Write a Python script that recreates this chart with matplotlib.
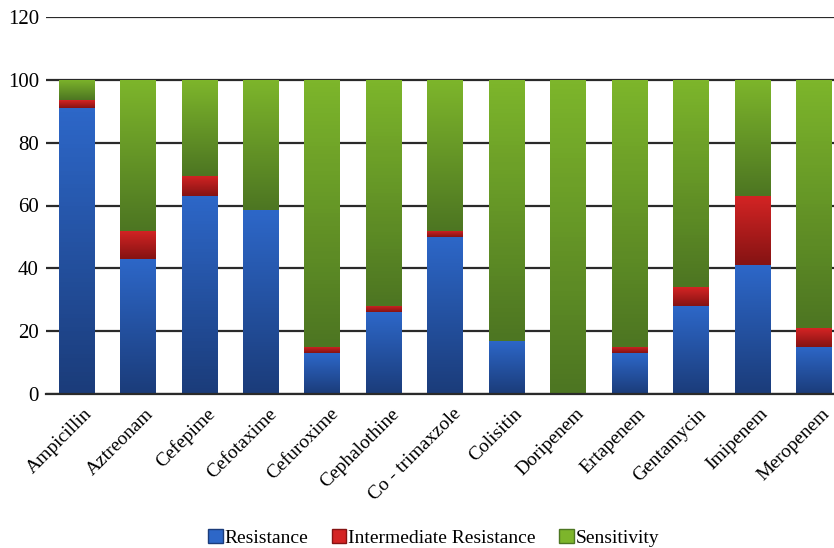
import matplotlib
matplotlib.use('Agg')
import matplotlib.pyplot as plt
import matplotlib.transforms as mtransforms
import numpy as np
from matplotlib.colors import LinearSegmentedColormap
from matplotlib.patches import Patch

plt.rcParams['font.family'] = ['Liberation Serif', 'DejaVu Serif']

# data (percent)
drugs = ['Ampicillin', 'Aztreonam', 'Cefepime', 'Cefotaxime', 'Cefuroxime',
         'Cephalothine', 'Co - trimaxzole', 'Colisitin', 'Doripenem',
         'Ertapenem', 'Gentamycin', 'Imipenem', 'Meropenem']
resistance = [91, 43, 63, 58.5, 13, 26, 50, 17, 0, 13, 28, 41, 15]
intermediate = [2.5, 9, 6.5, 0, 2, 2, 2, 0, 0, 2, 6, 22, 6]
sensitivity = [6.5, 48, 30.5, 41.5, 85, 72, 48, 83, 100, 85, 66, 37, 79]

series = ['Resistance', 'Intermediate Resistance', 'Sensitivity']
# (top colour, bottom colour) for each series
grads = [('#2d67c8', '#1b3c7a'),
         ('#d42424', '#851313'),
         ('#7db52b', '#4d7622')]

fig = plt.figure(figsize=(8.34, 5.48), dpi=100)
ax = fig.add_axes([0.055, 0.281, 0.958, 0.688])

x = np.arange(len(drugs))
w = 0.585
bottom = np.zeros(len(drugs))
for vals, (top_c, bot_c) in zip([resistance, intermediate, sensitivity], grads):
    vals = np.array(vals, dtype=float)
    bars = ax.bar(x, vals, w, bottom=bottom, color=bot_c, zorder=2)
    cmap = LinearSegmentedColormap.from_list('g', [bot_c, top_c])
    grad = np.linspace(0, 1, 64).reshape(-1, 1)
    for b in bars:
        if b.get_height() <= 0:
            continue
        x0, y0 = b.get_x(), b.get_y()
        im = ax.imshow(grad, cmap=cmap, origin='lower', aspect='auto',
                       extent=(x0, x0 + b.get_width(), y0, y0 + b.get_height()),
                       zorder=2.5)
        im.set_clip_path(b)
    bottom += vals

ax.set_xlim(-0.5, len(drugs) - 0.5)
ax.set_ylim(0, 120)
ax.set_yticks(range(0, 121, 20))
ax.yaxis.grid(True, color='#2a2a2a', linewidth=1.6)
ax.set_axisbelow(True)
for s in ['top', 'right', 'left']:
    ax.spines[s].set_visible(False)
ax.spines['bottom'].set_color('#2a2a2a')
ax.spines['bottom'].set_linewidth(1.6)
ax.tick_params(axis='y', length=0, labelsize=15, pad=5)
ax.tick_params(axis='x', length=0, pad=8)
ax.set_xticks(x)
ax.set_xticklabels(drugs, rotation=45, ha='right', rotation_mode='anchor',
                   fontsize=14)
# nudge labels a little to the right, as in the original
shift = mtransforms.ScaledTranslation(0.07, 0, fig.dpi_scale_trans)
for lab in ax.get_xticklabels():
    lab.set_transform(lab.get_transform() + shift)

handles = [Patch(facecolor=c[0], edgecolor=c[1]) for c in grads]
fig.legend(handles, series, loc='lower center', bbox_to_anchor=(0.52, -0.03),
           ncol=3, frameon=False, fontsize=14, handlelength=0.75,
           handleheight=0.75, handletextpad=0.1, columnspacing=1.2)

fig.savefig('out.png', dpi=100)
